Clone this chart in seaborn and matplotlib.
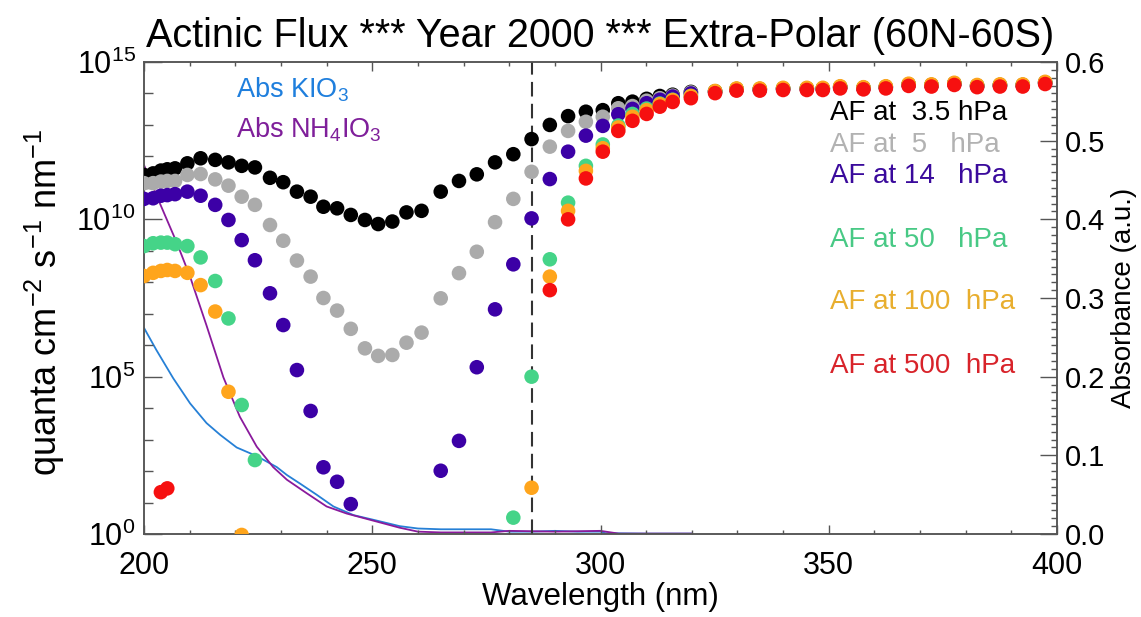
import numpy as np
import pandas as pd
import matplotlib
matplotlib.use("Agg")
import matplotlib.pyplot as plt
import seaborn as sns
from matplotlib.ticker import FixedLocator, NullFormatter, FuncFormatter, MultipleLocator

# ---------------- data ----------------
nan = np.nan
wavelength = [200.0, 202.0, 203.7, 205.1, 206.8, 209.5, 212.4, 215.6, 218.5, 221.4,
              224.3, 227.6, 230.5, 233.5, 236.5, 239.3, 242.3, 245.3, 248.4, 251.3,
              254.4, 257.5, 260.8, 265.0, 269.0, 272.9, 276.9, 280.9, 284.9, 288.9,
              292.9, 296.8, 300.5, 303.9, 307.0, 310.1, 313.0, 315.8, 319.8, 325.1,
              329.8, 334.9, 340.0, 345.2, 348.7, 352.5, 357.6, 362.5, 367.5, 372.5,
              377.5, 382.5, 387.5, 392.5, 397.4]

# log10 of actinic flux (quanta cm-2 s-1 nm-1); nan = below the axis
af_3p5_log10 = [11.41, 11.46, 11.55, 11.59, 11.62, 11.78, 11.94, 11.89, 11.81, 11.70,
                11.65, 11.32, 11.18, 10.88, 10.72, 10.40, 10.35, 10.14, 9.98, 9.85,
                9.93, 10.22, 10.27, 10.88, 11.22, 11.43, 11.81, 12.07, 12.55, 13.00,
                13.28, 13.42, 13.47, 13.69, 13.74, 13.83, 13.92, 13.96, 14.05, 14.07,
                14.14, 14.14, 14.16, 14.16, 14.16, 14.21, 14.18, 14.21, 14.29, 14.27,
                14.32, 14.25, 14.27, 14.27, 14.35]
af_5_log10 = [11.15, 11.15, 11.20, 11.22, 11.22, 11.41, 11.44, 11.27, 11.07, 10.72,
              10.46, 9.82, 9.32, 8.69, 8.18, 7.50, 7.10, 6.52, 5.90, 5.66,
              5.69, 6.08, 6.40, 7.49, 8.29, 8.97, 9.91, 10.65, 11.51, 12.31,
              12.81, 13.10, 13.26, 13.53, 13.60, 13.77, 13.85, 13.93, 14.03, 14.06,
              14.13, 14.13, 14.15, 14.15, 14.15, 14.20, 14.17, 14.20, 14.28, 14.26,
              14.31, 14.24, 14.26, 14.26, 14.34]
af_14_log10 = [10.65, 10.67, 10.75, 10.77, 10.80, 10.88, 10.75, 10.46, 9.98, 9.34,
               8.70, 7.65, 6.64, 5.21, 3.91, 2.12, 1.66, 0.95, nan, nan,
               nan, nan, nan, 2.01, 2.96, 5.30, 7.14, 8.57, 10.03, 11.28,
               12.15, 12.66, 12.97, 13.34, 13.51, 13.69, 13.80, 13.90, 14.00, 14.05,
               14.12, 14.12, 14.14, 14.14, 14.14, 14.19, 14.16, 14.19, 14.27, 14.25,
               14.30, 14.23, 14.25, 14.25, 14.33]
af_50_log10 = [9.15, 9.24, 9.26, 9.26, 9.21, 9.15, 8.79, 8.04, 6.85, 4.10,
               2.35, nan, nan, nan, nan, nan, nan, nan, nan, nan,
               nan, nan, nan, nan, nan, nan, nan, 0.52, 5.00, 8.73,
               10.53, 11.70, 12.38, 12.98, 13.35, 13.52, 13.68, 13.80, 13.92, 14.06,
               14.14, 14.14, 14.16, 14.16, 14.16, 14.21, 14.18, 14.21, 14.29, 14.27,
               14.32, 14.25, 14.27, 14.27, 14.35]
af_100_log10 = [8.20, 8.30, 8.36, 8.39, 8.36, 8.30, 7.91, 7.07, 4.52, -0.03,
                nan, nan, nan, nan, nan, nan, nan, nan, nan, nan,
                nan, nan, nan, nan, nan, nan, nan, nan, 1.47, 8.18,
                10.27, 11.54, 12.26, 12.92, 13.26, 13.47, 13.66, 13.79, 13.92, 14.08,
                14.16, 14.16, 14.18, 14.18, 14.18, 14.23, 14.20, 14.23, 14.31, 14.29,
                14.34, 14.27, 14.29, 14.29, 14.37]
af_500_log10 = [nan, nan, 1.33, 1.45, nan, nan, nan, nan, nan, nan,
                nan, nan, nan, nan, nan, nan, nan, nan, nan, nan,
                nan, nan, nan, nan, nan, nan, nan, nan, nan, 7.75,
                10.00, 11.30, 12.15, 12.81, 13.13, 13.35, 13.58, 13.73, 13.85, 14.01,
                14.09, 14.09, 14.11, 14.11, 14.11, 14.16, 14.13, 14.16, 14.24, 14.22,
                14.27, 14.20, 14.22, 14.22, 14.30]

series_names = ["AF at  3.5 hPa", "AF at  5   hPa", "AF at 14   hPa",
                "AF at 50   hPa", "AF at 100  hPa", "AF at 500  hPa"]
marker_colors = ["#000000", "#ababab", "#3c00a6", "#45d488", "#ffa51c", "#f61010"]
text_colors = ["#000000", "#b2b2b2", "#3a0a9c", "#48c985", "#e8ae2e", "#d8232a"]

kio3_wl = [200.0, 202.7, 206.4, 210.1, 213.7, 216.7, 220.3, 224.7, 229.1, 231.3,
           234.2, 237.8, 241.5, 245.9, 250.3, 256.0, 260.0, 265.0, 270.0, 276.0,
           280.0, 285.0, 290.0, 295.0, 300.0, 301.0, 310.0, 320.0]
kio3_abs = [0.262, 0.234, 0.198, 0.166, 0.141, 0.126, 0.110, 0.099, 0.085, 0.075,
            0.064, 0.050, 0.035, 0.024, 0.018, 0.010, 0.007, 0.006, 0.006, 0.006,
            0.003, 0.003, 0.004, 0.003, 0.003, 0.001, 0.0005, 0.0005]
nh4io3_wl = [200.0, 203.5, 207.2, 210.1, 211.2, 213.7, 217.4, 221.0, 224.7, 228.3,
             231.3, 235.6, 240.0, 244.4, 250.2, 256.0, 260.0, 265.0, 276.0, 280.0,
             290.0, 300.0, 304.0, 320.0]
nh4io3_abs = [0.469, 0.420, 0.370, 0.327, 0.308, 0.265, 0.199, 0.149, 0.111, 0.085,
              0.069, 0.052, 0.035, 0.026, 0.017, 0.008, 0.003, 0.002, 0.002, 0.004,
              0.003, 0.004, 0.0005, 0.0005]

cutoff_nm = 285.0

# ---------------- build tables ----------------
all_logs = [af_3p5_log10, af_5_log10, af_14_log10, af_50_log10, af_100_log10, af_500_log10]
frames = []
for name, logs in zip(series_names, all_logs):
    frames.append(pd.DataFrame({"wl": wavelength,
                                "flux": np.power(10.0, np.array(logs, dtype=float)),
                                "series": name}))
af_df = pd.concat(frames, ignore_index=True).dropna()
abs_df = pd.concat([
    pd.DataFrame({"wl": kio3_wl, "abs": kio3_abs, "comp": "KIO3"}),
    pd.DataFrame({"wl": nh4io3_wl, "abs": nh4io3_abs, "comp": "NH4IO3"}),
], ignore_index=True)

# ---------------- style ----------------
sns.set_style("ticks")
plt.rcParams["font.family"] = ["Liberation Sans", "DejaVu Sans"]
plt.rcParams["mathtext.fontset"] = "custom"
plt.rcParams["mathtext.rm"] = "Liberation Sans"
plt.rcParams["mathtext.it"] = "Liberation Sans"
plt.rcParams["mathtext.default"] = "regular"
plt.rcParams["text.color"] = "black"
plt.rcParams["axes.labelcolor"] = "black"
plt.rcParams["axes.titlecolor"] = "black"

W, H = 1141, 617
fig = plt.figure(figsize=(W / 100, H / 100), dpi=100)
x0, x1, y0, y1 = 144, 1057, 62, 534
ax = fig.add_axes([x0 / W, 1 - y1 / H, (x1 - x0) / W, (y1 - y0) / H])
ax2 = ax.twinx()

# absorbance lines (right axis)
sns.lineplot(data=abs_df, x="wl", y="abs", hue="comp", hue_order=["KIO3", "NH4IO3"],
             palette=["#2680d6", "#8a1a9c"], linewidth=1.3, legend=False,
             estimator=None, sort=False, ax=ax2)

# actinic flux dots (left axis)
ax.set_yscale("log")
sns.scatterplot(data=af_df, x="wl", y="flux", hue="series", hue_order=series_names,
                palette=marker_colors, s=110, linewidth=0, legend=False, ax=ax, zorder=3)
ax.set_zorder(ax2.get_zorder() + 1)
ax.patch.set_visible(False)

ax.axvline(cutoff_nm, color="#333333", lw=1.5, dashes=(7, 3.5), zorder=1)

ax.set_xlim(200, 400)
ax.set_ylim(1, 1e15)
ax2.set_ylim(0, 0.6)

ax.xaxis.set_major_locator(MultipleLocator(50))
ax.xaxis.set_minor_locator(MultipleLocator(10))
ax.yaxis.set_major_locator(FixedLocator([1e0, 1e5, 1e10, 1e15]))
ax.yaxis.set_minor_locator(FixedLocator([10.0 ** k for k in range(16)]))
ax.yaxis.set_minor_formatter(NullFormatter())
ax.yaxis.set_major_formatter(FuncFormatter(lambda v, p: r"$10^{%d}$" % int(round(np.log10(v)))))
ax2.yaxis.set_major_locator(MultipleLocator(0.1))
ax2.yaxis.set_minor_locator(MultipleLocator(0.01))
ax2.yaxis.set_major_formatter(FuncFormatter(lambda v, p: "%.1f" % v))

spine_c = "#555555"
for a in (ax, ax2):
    for sp in a.spines.values():
        sp.set_color(spine_c)
        sp.set_linewidth(1.1)
ax.tick_params(axis="x", which="both", direction="in", top=True, bottom=True,
               colors=spine_c, labelcolor="black", labelsize=22, pad=12)
ax.tick_params(axis="x", which="major", length=6.5, width=1.0)
ax.tick_params(axis="x", which="minor", length=3.2, width=1.0)
ax.tick_params(axis="y", which="both", direction="in", left=True, right=False,
               colors=spine_c, labelcolor="black", labelsize=22, pad=6)
ax.tick_params(axis="y", which="major", length=13, width=1.0)
ax.tick_params(axis="y", which="minor", length=6.5, width=1.0)
ax2.tick_params(axis="y", which="both", direction="in", right=True, left=False,
                colors=spine_c, labelcolor="black", labelsize=21, pad=6)
ax2.tick_params(axis="y", which="major", length=12, width=1.0)
ax2.tick_params(axis="y", which="minor", length=4.5, width=1.0)

ax.set_xlabel("Wavelength (nm)", fontsize=22.5, color="black")
ax.xaxis.label.set_va("center")
ax.xaxis.set_label_coords(0.5, -(597 - y1) / (y1 - y0))

ax.set_ylabel(r"quanta cm$^{-2}$ s$^{-1}$ nm$^{-1}$", fontsize=26, color="black")
ax.yaxis.label.set_va("center")
ax.yaxis.label.set_ha("center")
ax.yaxis.set_label_coords((45 - x0) / (x1 - x0), (y1 - 302) / (y1 - y0))

ax2.set_ylabel("Absorbance (a.u.)", fontsize=20, rotation=90, color="black")
ax2.yaxis.label.set_va("center")
ax2.yaxis.label.set_ha("center")
ax2.yaxis.set_label_coords((1124 - x0) / (x1 - x0), (y1 - 298) / (y1 - y0))

ax.set_title("Actinic Flux *** Year 2000 *** Extra-Polar (60N-60S)", fontsize=28.5,
             pad=11, color="black")

# series labels
label_y = [113, 145, 176, 240, 302, 366]
for name, col, yy in zip(series_names, text_colors, label_y):
    fig.text(830 / W, 1 - yy / H, name, color=col, fontsize=20, ha="left", va="center")

fig.text(236 / W, 1 - 98 / H, r"Abs KIO$_3$", color="#1f7fdd", fontsize=19.5,
         ha="left", va="baseline")
fig.text(236 / W, 1 - 138 / H, r"Abs NH$_4$IO$_3$", color="#7f1f9a", fontsize=19.5,
         ha="left", va="baseline")

fig.savefig("out.png", dpi=100)
